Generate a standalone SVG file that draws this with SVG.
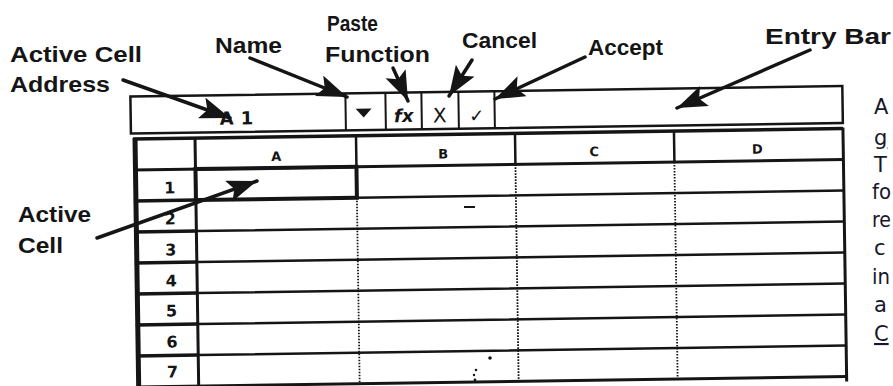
<svg xmlns="http://www.w3.org/2000/svg" width="893" height="386" viewBox="0 0 893 386">
<style>
  .lbl{font-family:"Liberation Sans","DejaVu Sans",sans-serif;font-weight:bold;font-size:22px;fill:#151515}
  .hdr{font-family:"DejaVu Sans",sans-serif;font-weight:bold;font-size:13px;fill:#151515;text-anchor:middle}
  .num{font-family:"DejaVu Sans",sans-serif;font-weight:bold;font-size:16px;fill:#151515;text-anchor:middle}
  .btn{font-family:"DejaVu Sans",sans-serif;fill:#151515;text-anchor:middle}
  .side{font-family:"DejaVu Sans",sans-serif;font-size:21px;fill:#17172a}
  .ln{stroke:#151515;fill:none}
  .row{stroke:#151515;stroke-width:2.5;fill:none}
  .rowh{stroke:#151515;stroke-width:3.5;fill:none}
  .dot{stroke:#151515;stroke-width:1.8;stroke-dasharray:1.6 1.4;fill:none}
  .arrow{stroke:#151515;stroke-width:3.5;fill:none;stroke-linecap:round;marker-end:url(#head)}
</style>
<defs>
  <marker id="head" markerUnits="userSpaceOnUse" markerWidth="34" markerHeight="26" refX="30" refY="11" orient="auto">
    <path d="M0,0 L30,11 L0,22 L6,11 Z" fill="#151515"/>
  </marker>
</defs>
<rect width="893" height="386" fill="#ffffff"/>

<!-- spreadsheet window: formula bar and cell grid, slightly tilted -->
<g id="sheet" transform="rotate(-0.85 133 138)">
  <g id="entry-bar">
    <rect x="131" y="96.5" width="712" height="37" class="ln" stroke-width="2.5"/>
    <path d="M346,96.5 V133.5 M386,96.5 V133.5 M422,96.5 V133.5 M459,96.5 V133.5 M495,96.5 V133.5" class="ln" stroke-width="2"/>
    <text x="220" y="126" font-family="DejaVu Sans, sans-serif" font-size="18" font-weight="bold" fill="#151515" letter-spacing="7">A1</text>
    <polygon points="356,112 372,112 364,121" fill="#151515"/>
    <text x="404" y="126" class="btn" font-size="18" font-weight="bold" font-style="italic">fx</text>
    <text x="440" y="127" class="btn" font-size="20">X</text>
    <text x="477" y="127" class="btn" font-size="18">✓</text>
  </g>
  <g id="grid">
    <!-- frame -->
    <path d="M133,139 H843" class="ln" stroke-width="3.5"/>
    <path d="M135,138 V392" class="ln" stroke-width="5"/>
    <path d="M843,138 V392" class="ln" stroke-width="3"/>
    <path d="M133,387 H843" class="ln" stroke-width="3"/>
    <!-- header row -->
    <path d="M133,170 H843" class="ln" stroke-width="3"/>
    <path d="M195,138 V392" class="ln" stroke-width="3"/>
    <path d="M356,138 V170 M515,138 V170 M674,138 V170" class="ln" stroke-width="2.5"/>
    <!-- row header separators -->
    <path d="M133,201 H195 M133,232 H195 M133,263 H195 M133,294 H195 M133,325 H195 M133,356 H195" class="rowh"/>
    <!-- data rows -->
    <path d="M356,201 H843 M195,232 H843 M195,263 H843 M195,294 H843 M195,325 H843 M195,356 H843" class="row"/>
    <!-- column gridlines -->
    <path d="M356,201 V387 M515,170 V387 M674,170 V387" class="dot"/>
    <!-- active cell A1 -->
    <rect x="195" y="170" width="161" height="31" class="ln" stroke-width="4"/>
    <!-- column headings -->
    <text x="276" y="163" class="hdr">A</text>
    <text x="443" y="163" class="hdr">B</text>
    <text x="594" y="163" class="hdr">C</text>
    <text x="757" y="163" class="hdr">D</text>
    <!-- row headings -->
    <text x="169" y="194" class="num">1</text>
    <text x="169" y="225" class="num">2</text>
    <text x="169" y="256" class="num">3</text>
    <text x="169" y="287" class="num">4</text>
    <text x="169" y="317" class="num">5</text>
    <text x="169" y="348" class="num">6</text>
    <text x="169" y="378" class="num">7</text>
  </g>
</g>

<!-- small marks inside the grid -->
<g id="marks" fill="#151515">
  <path d="M464,207 H475" stroke="#151515" stroke-width="2"/>
  <circle cx="490" cy="358" r="1.8"/>
  <circle cx="476" cy="370" r="1.3"/>
  <circle cx="474" cy="375" r="1.2"/>
  <circle cx="475" cy="380" r="1.4"/>
</g>

<!-- callout labels -->
<g id="label-active-cell-address">
  <text x="10" y="62" class="lbl" textLength="132" lengthAdjust="spacingAndGlyphs">Active Cell</text>
  <text x="10" y="92" class="lbl" textLength="100" lengthAdjust="spacingAndGlyphs">Address</text>
</g>
<g id="label-name">
  <text x="215" y="53" class="lbl" textLength="67" lengthAdjust="spacingAndGlyphs">Name</text>
</g>
<g id="label-paste-function">
  <text x="327" y="31" class="lbl" textLength="51" lengthAdjust="spacingAndGlyphs">Paste</text>
  <text x="325" y="62" class="lbl" textLength="105" lengthAdjust="spacingAndGlyphs">Function</text>
</g>
<g id="label-cancel">
  <text x="462" y="48" class="lbl" textLength="75" lengthAdjust="spacingAndGlyphs">Cancel</text>
</g>
<g id="label-accept">
  <text x="588" y="55" class="lbl" textLength="75" lengthAdjust="spacingAndGlyphs">Accept</text>
</g>
<g id="label-entry-bar">
  <text x="765" y="44" class="lbl" textLength="126" lengthAdjust="spacingAndGlyphs">Entry Bar</text>
</g>
<g id="label-active-cell">
  <text x="18" y="222" class="lbl" textLength="73" lengthAdjust="spacingAndGlyphs">Active</text>
  <text x="18" y="253" class="lbl" textLength="45" lengthAdjust="spacingAndGlyphs">Cell</text>
</g>

<!-- connectors -->
<g id="connectors">
  <path d="M123,80 L230,118" class="arrow"/>
  <path d="M250,58 L347,97" class="arrow"/>
  <path d="M393,68 L408,101" class="arrow"/>
  <path d="M472,60 L449,96" class="arrow"/>
  <path d="M585,57 L495,99" class="arrow"/>
  <path d="M810,50 L677,108" class="arrow"/>
  <path d="M97,238 L257,181" class="arrow"/>
</g>

<!-- neighbouring page text at the right margin -->
<g id="side-text" class="side">
  <text x="874" y="114">A</text>
  <text x="874" y="145" text-decoration="underline">g</text>
  <text x="874" y="172">T</text>
  <text x="872" y="199" textLength="19" lengthAdjust="spacingAndGlyphs">fo</text>
  <text x="872" y="227" textLength="19" lengthAdjust="spacingAndGlyphs">re</text>
  <text x="874" y="255">c</text>
  <text x="872" y="284" textLength="18" lengthAdjust="spacingAndGlyphs">in</text>
  <text x="874" y="312">a</text>
  <text x="874" y="341" text-decoration="underline">C</text>
</g>
</svg>
